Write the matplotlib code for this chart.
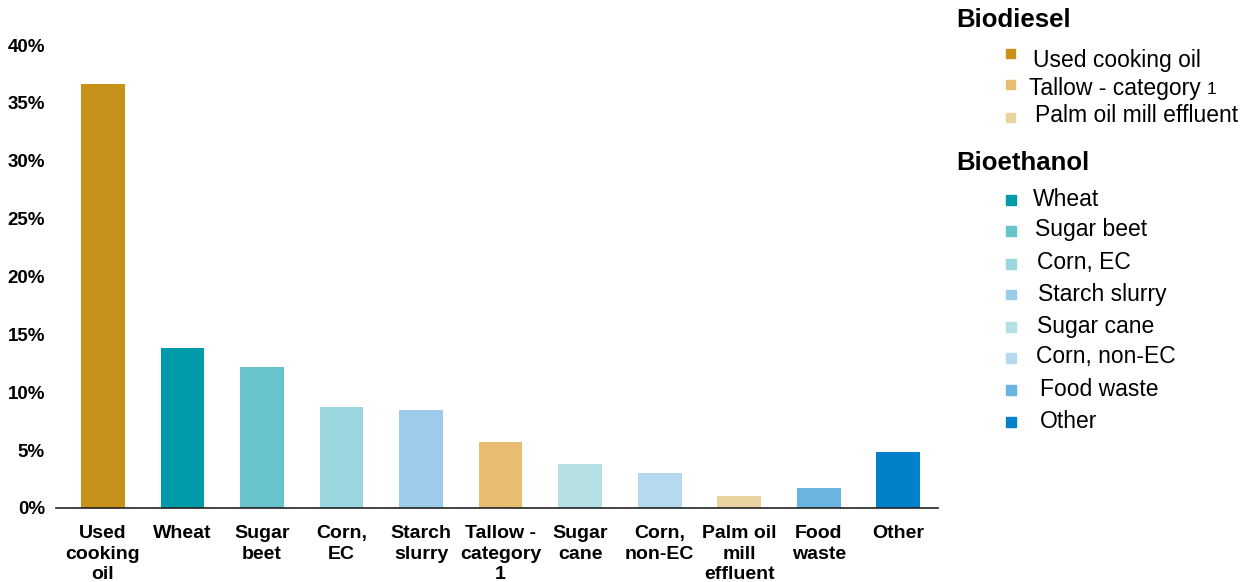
import matplotlib
matplotlib.use('Agg')
from matplotlib import pyplot as plt

plt.rcParams['font.family'] = ['Liberation Sans', 'DejaVu Sans']

# feedstock shares
categories = ['Used\ncooking\noil', 'Wheat', 'Sugar\nbeet', 'Corn,\nEC', 'Starch\nslurry',
              'Tallow -\ncategory\n1', 'Sugar\ncane', 'Corn,\nnon-EC', 'Palm oil\nmill\neffluent',
              'Food\nwaste', 'Other']
shares = [36.6, 13.8, 12.2, 8.7, 8.5, 5.7, 3.8, 3.0, 1.0, 1.7, 4.8]
colors = ['#C8911A', '#009BA9', '#69C3CB', '#9BD6DE', '#9CCCE9', '#E9BD71',
          '#B4E0E4', '#B5DAF0', '#E8D3A0', '#69B4E0', '#0081C9']
y_ticks = [0, 5, 10, 15, 20, 25, 30, 35, 40]

biodiesel = ['Used cooking oil', 'Tallow - category', 'Palm oil mill effluent']
biodiesel_colors = ['#C8911A', '#E9BD71', '#E8D3A0']
bioethanol = ['Wheat', 'Sugar beet', 'Corn, EC', 'Starch slurry', 'Sugar cane',
              'Corn, non-EC', 'Food waste', 'Other']
bioethanol_colors = ['#009BA9', '#69C3CB', '#9BD6DE', '#9CCCE9', '#B4E0E4',
                     '#B5DAF0', '#69B4E0', '#0081C9']

W, H = 1248, 582
fig = plt.figure(figsize=(12.48, 5.82), dpi=100)
ax = fig.add_axes([56 / W, 74 / H, (938 - 56) / W, (508 - 45) / H])

x = list(range(len(categories)))
ax.bar(x, shares, width=0.55, color=colors)
ax.set_xlim(-0.59, 10.5)
ax.set_ylim(0, 40)
ax.set_yticks(y_ticks)
ax.set_yticklabels([f'{t}%' for t in y_ticks], fontsize=13.5, fontweight='bold')
ax.set_xticks(x)
ax.set_xticklabels(categories, fontsize=14, fontweight='bold', linespacing=1.3)
ax.tick_params(axis='both', length=0)
ax.tick_params(axis='y', pad=8)
ax.tick_params(axis='x', pad=12)
for s in ['left', 'right', 'top']:
    ax.spines[s].set_visible(False)
ax.spines['bottom'].set_linewidth(1.2)
ax.spines['bottom'].set_color('#222222')

# legend drawn by hand, positions in pixels from the top-left
def px(xp, yp):
    return xp / W, 1 - yp / H

def square(xp, top, size, c):
    fig.patches.append(plt.Rectangle(px(xp, top + size), size / W, size / H, color=c,
                                     transform=fig.transFigure))

fig.text(*px(956, 20), 'Biodiesel', fontsize=18.5, fontweight='bold', va='center')
bd_y = [60, 88, 116]
bd_x = [1033, 1029, 1035]
bd_sq = [49, 80, 113]
renderer = fig.canvas.get_renderer()
for name, c, yy, xx, sq in zip(biodiesel, biodiesel_colors, bd_y, bd_x, bd_sq):
    square(1006, sq, 8.5, c)
    t = fig.text(*px(xx, yy), name, fontsize=16.5, va='center')
    if name.startswith('Tallow'):
        bb = t.get_window_extent(renderer)
        fig.text(bb.x1 / W + 6 / W, 1 - (yy + 1) / H, '1', fontsize=12.5, va='center')

fig.text(*px(956, 163), 'Bioethanol', fontsize=18.5, fontweight='bold', va='center')
be_y = [199, 230, 263, 294, 326, 357, 389, 421]
be_x = [1033, 1035, 1037, 1038, 1037, 1036, 1040, 1040]
for name, c, yy, xx in zip(bioethanol, bioethanol_colors, be_y, be_x):
    square(1006, yy - 4, 9.5, c)
    fig.text(*px(xx, yy), name, fontsize=16.5, va='center')

fig.savefig('out.png', dpi=100)
